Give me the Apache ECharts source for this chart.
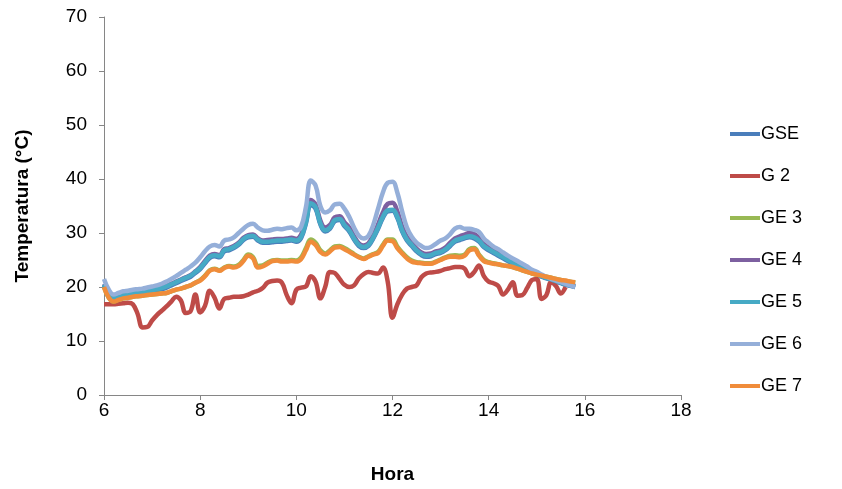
<!DOCTYPE html>
<html><head><meta charset="utf-8">
<script src="https://cdn.jsdelivr.net/npm/echarts@6/dist/echarts.min.js"></script>
<style>html,body{margin:0;padding:0;background:#fff}#c{width:842px;height:489px}</style>
</head><body><div id="c"></div>
<script>
const hours = [6.0,6.1,6.2,6.3,6.4,6.5,6.6,6.7,6.8,6.9,7.0,7.1,7.2,7.3,7.4,7.5,7.6,7.7,7.8,7.9,8.0,8.1,8.2,8.3,8.4,8.5,8.6,8.7,8.8,8.9,9.0,9.1,9.2,9.3,9.4,9.5,9.6,9.7,9.8,9.9,10.0,10.1,10.2,10.3,10.4,10.5,10.6,10.7,10.8,10.9,11.0,11.1,11.2,11.3,11.4,11.5,11.6,11.7,11.8,11.9,12.0,12.1,12.2,12.3,12.4,12.5,12.6,12.7,12.8,12.9,13.0,13.1,13.2,13.3,13.4,13.5,13.6,13.7,13.8,13.9,14.0,14.1,14.2,14.3,14.4,14.5,14.6,14.7,14.8,14.9,15.0,15.1,15.2,15.3,15.4,15.5,15.6,15.7,15.8];
const seriesNames = ['GSE','G 2','GE 3','GE 4','GE 5','GE 6','GE 7'];
const xTicks = [6,8,10,12,14,16,18];
const yTicks = [0,10,20,30,40,50,60,70];

const gse = [20.3,18.6,17.8,18.1,18.3,18.4,18.6,18.7,18.8,19.0,19.2,19.4,19.6,19.9,20.3,20.7,21.1,21.5,21.9,22.6,23.3,24.4,25.4,25.7,25.5,26.6,26.8,27.2,27.8,28.7,29.2,29.3,28.6,28.2,28.2,28.3,28.4,28.4,28.5,28.6,28.4,29.1,31.8,35.2,34.5,31.6,30.3,30.8,32.2,32.4,31.3,30.3,28.8,27.6,27.2,27.6,29.0,30.8,32.8,34.0,34.1,32.8,30.3,28.6,27.6,26.6,25.9,25.6,25.7,26.1,26.3,26.8,27.6,28.4,28.7,29.0,29.2,29.0,28.4,27.4,26.8,26.3,25.8,25.3,24.8,24.3,23.9,23.5,23.1,22.6,22.3,21.9,21.6,21.3,21.0,20.7,20.4,20.2,20.0];
const g2 = [16.8,16.8,16.8,16.9,17.0,17.1,16.8,15.0,12.5,12.6,13.8,14.8,15.6,16.4,17.3,18.2,17.5,15.2,15.5,18.6,15.3,16.5,19.3,18.0,16.0,17.8,18.0,18.2,18.2,18.3,18.6,19.0,19.3,19.8,20.8,21.1,21.2,20.8,18.5,17.0,19.5,19.9,20.1,22.0,21.0,17.9,20.0,22.8,22.6,21.5,20.4,20.0,20.3,21.6,22.4,22.8,22.6,22.5,23.6,21.0,14.3,16.8,18.6,19.7,20.0,20.3,21.8,22.5,22.7,22.8,23.0,23.3,23.5,23.7,23.7,23.4,22.0,22.8,24.0,22.0,21.0,20.7,20.2,18.6,19.5,20.9,18.4,18.5,19.8,21.3,21.5,17.8,18.5,20.9,20.2,18.8,20.0,null,null];
const ge3 = [20.0,18.0,17.3,17.6,17.9,18.0,18.2,18.3,18.4,18.5,18.6,18.7,18.8,18.9,19.2,19.5,19.7,20.0,20.3,20.8,21.3,22.1,23.1,23.4,23.1,23.6,23.9,23.8,24.1,25.0,26.0,25.5,23.9,24.0,24.5,24.9,25.0,24.9,24.9,25.0,24.9,25.5,27.2,28.8,28.2,26.8,26.2,26.8,27.5,27.6,27.2,26.7,26.1,25.6,25.3,25.7,26.1,26.5,27.8,28.8,28.8,27.5,26.4,25.5,24.9,24.6,24.5,24.4,24.4,24.7,25.1,25.5,25.8,25.9,25.8,26.0,27.0,27.2,26.0,25.0,24.6,24.4,24.2,24.0,23.9,23.7,23.4,23.1,22.8,22.5,22.3,22.1,21.9,21.7,21.5,21.3,21.1,21.0,20.8];
const ge4 = [20.6,18.9,18.1,18.4,18.6,18.7,18.9,19.0,19.1,19.3,19.5,19.7,19.9,20.2,20.6,21.0,21.4,21.8,22.2,22.9,23.7,24.8,25.8,26.1,25.9,27.0,27.2,27.6,28.2,29.1,29.6,29.7,29.0,28.6,28.7,28.8,28.9,28.9,29.0,29.1,28.9,29.7,32.5,36.1,35.3,32.3,31.0,31.5,32.9,33.1,32.0,31.0,29.4,28.1,27.7,28.1,29.6,31.6,33.8,35.4,35.6,34.0,31.2,29.3,28.2,27.1,26.4,26.1,26.2,26.6,26.8,27.3,28.2,29.0,29.4,29.7,30.0,29.8,29.1,28.0,27.3,26.7,26.2,25.7,25.2,24.7,24.2,23.8,23.3,22.8,22.5,22.1,21.8,21.5,21.2,20.9,20.6,20.4,20.2];
const ge5 = [20.5,18.8,18.0,18.3,18.5,18.6,18.8,18.9,19.0,19.2,19.4,19.6,19.8,20.1,20.5,20.9,21.3,21.7,22.1,22.8,23.5,24.6,25.6,25.9,25.7,26.8,27.0,27.4,28.0,28.9,29.4,29.5,28.8,28.4,28.4,28.5,28.6,28.6,28.7,28.8,28.6,29.3,32.0,35.5,34.8,31.8,30.5,31.0,32.4,32.6,31.5,30.5,29.0,27.8,27.4,27.8,29.2,31.0,33.0,34.2,34.3,33.0,30.5,28.8,27.8,26.8,26.1,25.8,25.9,26.3,26.5,27.0,27.8,28.6,28.9,29.2,29.4,29.2,28.6,27.6,27.0,26.5,26.0,25.5,25.0,24.5,24.0,23.6,23.2,22.7,22.4,22.0,21.7,21.4,21.1,20.8,20.5,20.3,20.1];
const ge6 = [21.5,19.5,18.6,18.9,19.2,19.3,19.5,19.6,19.7,19.9,20.1,20.3,20.6,21.0,21.5,22.0,22.6,23.2,23.8,24.5,25.5,26.6,27.5,27.8,27.5,28.6,28.8,29.2,30.0,30.8,31.5,31.7,31.0,30.5,30.4,30.6,30.8,30.7,30.9,31.0,30.5,31.2,34.8,39.7,38.8,35.0,33.8,34.2,35.3,35.4,34.5,33.0,31.0,29.5,29.0,29.5,31.5,34.5,37.5,39.3,39.5,37.5,34.0,31.0,29.3,28.2,27.6,27.2,27.4,28.0,28.6,29.0,29.8,30.8,31.1,30.8,30.8,30.6,30.2,29.0,28.2,27.5,27.0,26.4,25.8,25.3,24.8,24.3,23.8,23.2,22.8,22.3,21.9,21.5,21.2,20.9,20.6,20.3,20.0];
const ge7 = [20.0,18.0,17.3,17.6,17.9,18.0,18.2,18.3,18.4,18.5,18.6,18.7,18.8,18.9,19.2,19.5,19.7,20.0,20.3,20.8,21.2,22.0,23.0,23.3,23.0,23.5,23.8,23.6,23.9,24.8,25.8,25.3,23.6,23.8,24.3,24.8,24.9,24.7,24.7,24.8,24.7,25.2,26.8,28.4,27.8,26.5,26.0,26.6,27.3,27.4,27.0,26.5,26.0,25.5,25.2,25.6,26.0,26.3,27.6,28.6,28.5,27.2,26.2,25.3,24.7,24.5,24.4,24.3,24.3,24.6,25.0,25.4,25.6,25.6,25.5,25.8,26.8,27.0,25.8,24.8,24.5,24.3,24.2,24.0,23.9,23.7,23.4,23.1,22.8,22.5,22.3,22.1,21.9,21.7,21.5,21.3,21.2,21.0,20.9];

const seriesValues = [gse, g2, ge3, ge4, ge5, ge6, ge7];
const colors = ['#4A7EBB','#BE4B48','#98B954','#7D60A0','#46AAC5','#95AFD9','#F08C3A'];

const font = 'Arial, "Liberation Sans", sans-serif';
const chart = echarts.init(document.getElementById('c'), null, {renderer:'canvas'});
chart.setOption({
  animation: false,
  backgroundColor: '#fff',
  color: colors,
  grid: {left: 104, right: 161, top: 17, bottom: 92, containLabel: false},
  xAxis: {
    type: 'value', min: xTicks[0], max: xTicks[xTicks.length-1], interval: 2,
    name: 'Hora', nameLocation: 'middle', nameGap: 70,
    nameTextStyle: {fontFamily: font, fontSize: 19, fontWeight: 'bold', color: '#000'},
    axisLine: {lineStyle: {color: '#868686', width: 1}},
    axisTick: {show: true, length: 5, inside: false, lineStyle: {color: '#868686'}},
    axisLabel: {fontFamily: font, fontSize: 19, color: '#000', margin: 6},
    splitLine: {show: false}
  },
  yAxis: {
    type: 'value', min: yTicks[0], max: yTicks[yTicks.length-1], interval: 10,
    name: 'Temperatura (°C)', nameLocation: 'middle', nameGap: 72, nameRotate: 90,
    nameTextStyle: {fontFamily: font, fontSize: 19, fontWeight: 'bold', color: '#000'},
    axisLine: {show: true, lineStyle: {color: '#868686', width: 1}},
    axisTick: {show: true, length: 5, inside: false, lineStyle: {color: '#868686'}},
    axisLabel: {fontFamily: font, fontSize: 19, color: '#000', margin: 17},
    splitLine: {show: false}
  },
  legend: {
    orient: 'vertical', left: 725, top: 120,
    itemWidth: 30, itemHeight: 4, itemGap: 24, icon: 'rect',
    textStyle: {fontFamily: font, fontSize: 18, lineHeight: 18, color: '#000', padding: [0,0,0,-4]},
    data: seriesNames
  },
  series: seriesNames.map((n, i) => ({
    name: n, type: 'line', smooth: 0.4, showSymbol: false, symbol: 'none',
    lineStyle: {width: 4.5, color: colors[i]},
    data: hours.map((h, j) => [h, seriesValues[i][j]])
  }))
});
</script></body></html>
